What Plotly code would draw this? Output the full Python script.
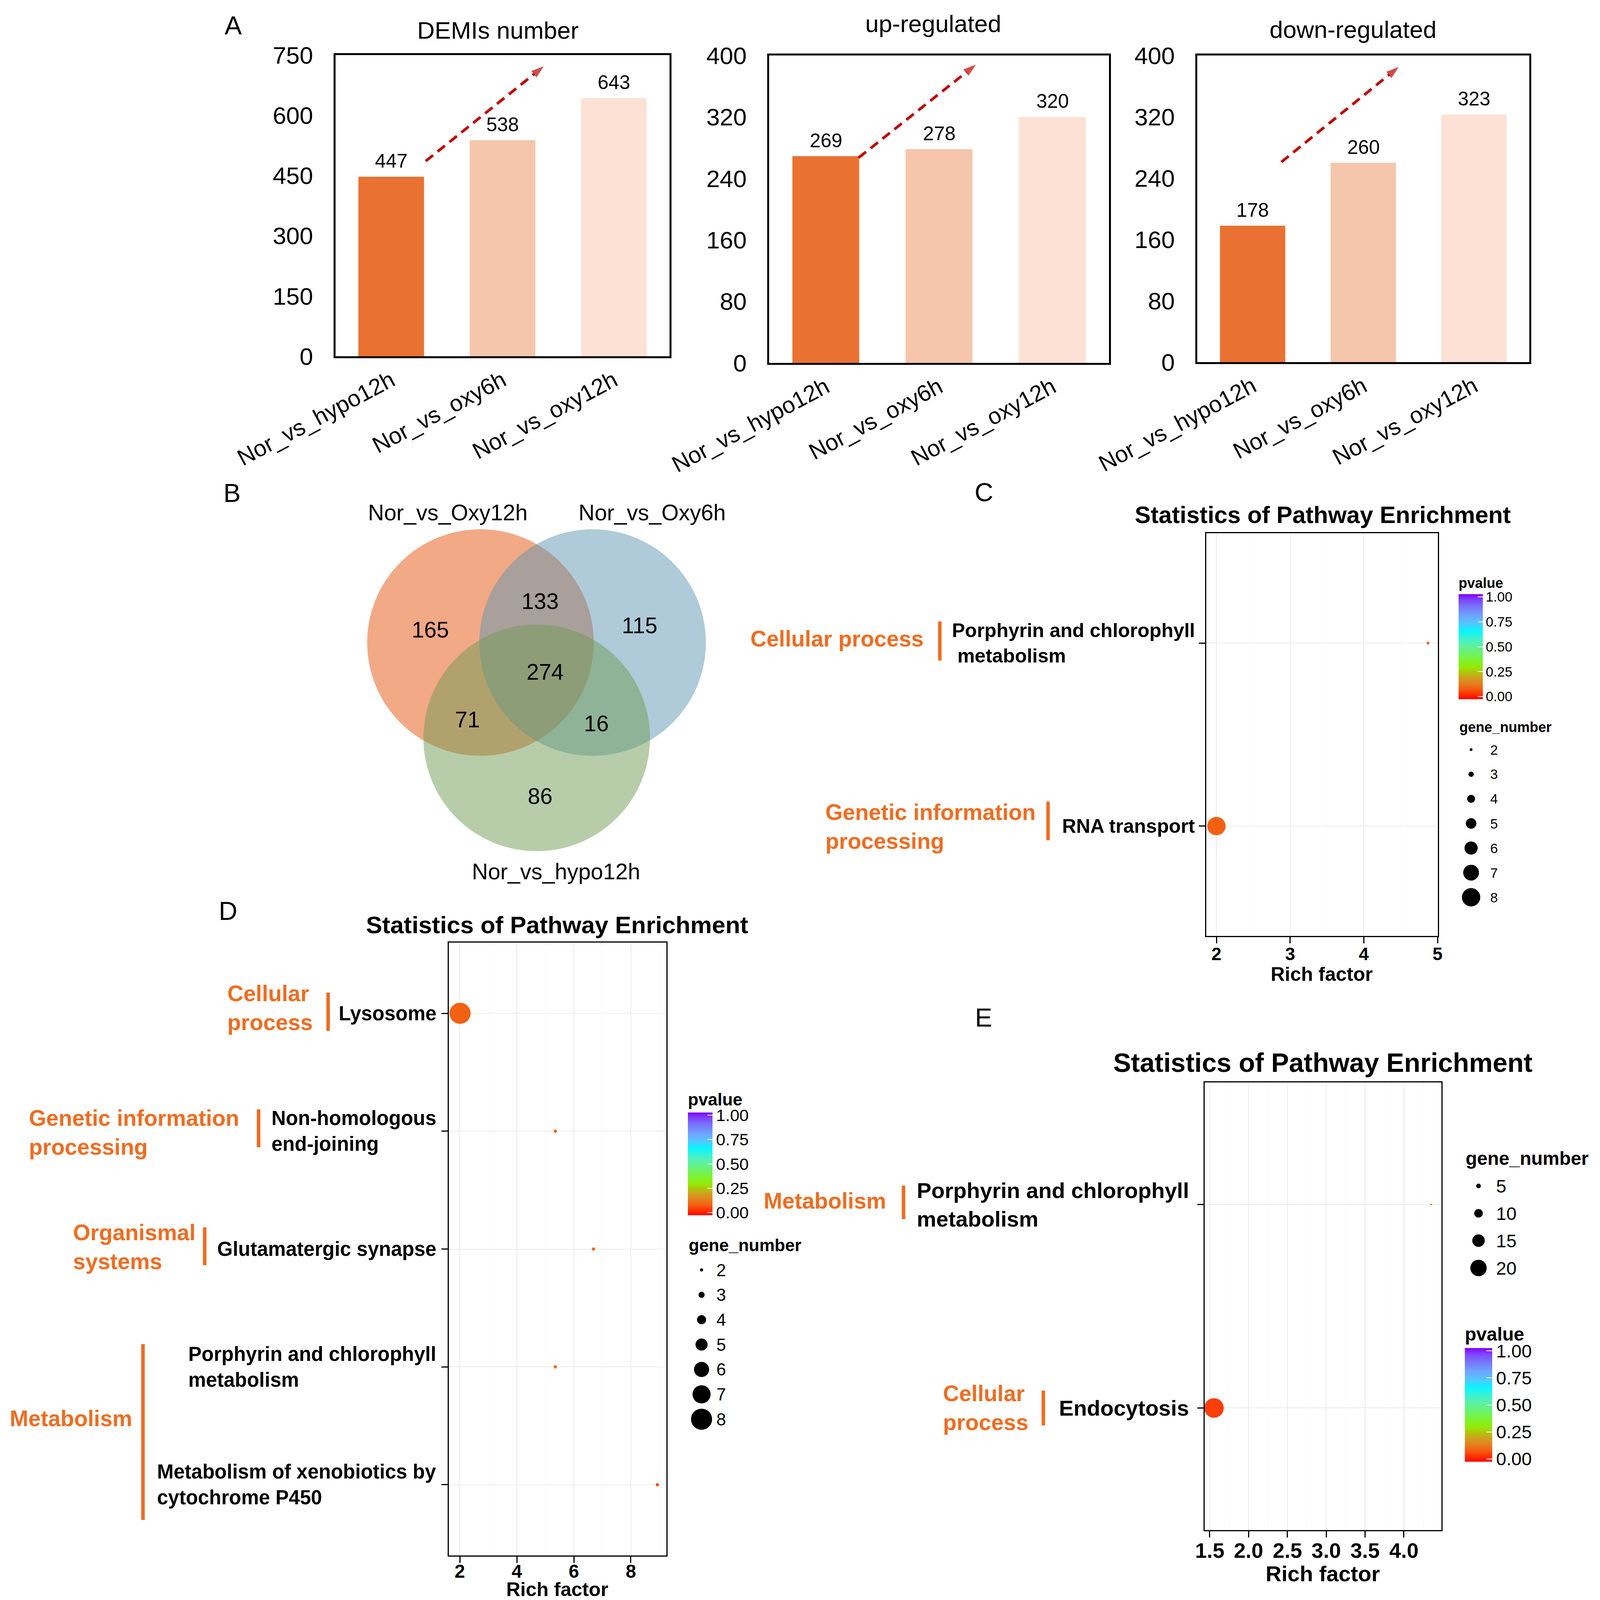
import plotly.graph_objects as go

W, H = 4097, 4146
FONT = "Liberation Sans, Arial, Helvetica, sans-serif"
ORANGE_TXT = "#EF6C21"
ARROW_RED = "#C00000"

# ---------------- DATA ----------------
comparisons = ["Nor_vs_hypo12h", "Nor_vs_oxy6h", "Nor_vs_oxy12h"]
demis_number = [447, 538, 643]
up_regulated = [269, 278, 320]
down_regulated = [178, 260, 323]
bar_colors = ["#E97132", "#F5C6AB", "#FBE2D5"]

venn_sets = ["Nor_vs_Oxy12h", "Nor_vs_Oxy6h", "Nor_vs_hypo12h"]
venn_only_oxy12 = 165
venn_oxy12_oxy6 = 133
venn_only_oxy6 = 115
venn_all = 274
venn_oxy12_hypo = 71
venn_oxy6_hypo = 16
venn_only_hypo = 86

C_path = ["RNA transport", "Porphyrin and chlorophyll metabolism"]
C_labels = ["RNA transport", "Porphyrin and chlorophyll<br>\u00a0metabolism"]
C_rich = [2.0, 4.87]
C_gene = [8, 2]
C_p = [0.08, 0.07]

D_path = ["Metabolism of xenobiotics by cytochrome P450", "Porphyrin and chlorophyll metabolism",
          "Glutamatergic synapse", "Non-homologous end-joining", "Lysosome"]
D_labels = ["Metabolism of xenobiotics by<br>cytochrome P450", "Porphyrin and chlorophyll<br>metabolism",
            "Glutamatergic synapse", "Non-homologous<br>end-joining", "Lysosome"]
D_rich = [8.93, 5.35, 6.69, 5.35, 2.01]
D_gene = [2, 2, 2, 2, 8]
D_p = [0.05, 0.08, 0.08, 0.08, 0.08]

E_path = ["Endocytosis", "Porphyrin and chlorophyll metabolism"]
E_labels = ["Endocytosis", "Porphyrin and chlorophyll<br>metabolism"]
E_rich = [1.555, 4.35]
E_gene = [24, 1]
E_p = [0.04, 0.07]

C_size_breaks = [2, 3, 4, 5, 6, 7, 8]
D_size_breaks = [2, 3, 4, 5, 6, 7, 8]
E_size_breaks = [5, 10, 15, 20]
pvalue_ticks = [0, 0.25, 0.5, 0.75, 1.0]
pvalue_ticktext = ["0.00", "0.25", "0.50", "0.75", "1.00"]

# ---------------- HELPERS ----------------
def fx(p):
    return p / W

def fy(p):
    return 1 - p / H

def size_C(n):
    return 7 + (n - 2) * 40 / 6

def size_D(n):
    return 8 + (n - 2) * 46 / 6

def size_E(n):
    return 2 + 2 * n

rainbow = [[0.0, "#FF0000"], [0.04, "#FF2A00"], [0.10, "#F26012"], [0.16, "#E28420"],
           [0.21, "#CFA21C"], [0.26, "#ADC80A"], [0.30, "#98E806"], [0.37, "#7EF22E"],
           [0.44, "#6CF26A"], [0.52, "#5CF0A8"], [0.59, "#38F2D8"], [0.65, "#08F6FF"],
           [0.72, "#52C8FF"], [0.79, "#6EA6FF"], [0.88, "#7676FA"], [0.95, "#8040FF"],
           [1.0, "#8000FF"]]

fig = go.Figure()
anns = []
shapes = []
layout = dict(width=W, height=H, autosize=False,
              margin=dict(l=0, r=0, t=0, b=0, pad=0, autoexpand=False),
              paper_bgcolor="white", plot_bgcolor="rgba(0,0,0,0)", showlegend=False,
              font=dict(family=FONT, color="black"))


def ann(text, x, y, size, color="black", weight="normal", xanchor="center",
        yanchor="middle", align="center"):
    anns.append(dict(text=text, x=fx(x), y=fy(y), xref="paper", yref="paper",
                     showarrow=False, xanchor=xanchor, yanchor=yanchor, align=align,
                     font=dict(family=FONT, size=size, color=color, weight=weight)))


def vbar(x, y0, y1, width=9):
    shapes.append(dict(type="line", xref="paper", yref="paper", x0=fx(x), x1=fx(x),
                       y0=fy(y0), y1=fy(y1), line=dict(color=ORANGE_TXT, width=width)))

# ---------------- PANEL A (bars) ----------------
bar_panels = [
    (1, demis_number, "DEMIs number", (859, 1714), (141, 912), [0, 750], 150, (1274, 77),
     ((0.31, 486), (1.37, 722))),
    (2, up_regulated, "up-regulated", (1969, 2839), (142, 929), [0, 400], 80, (2389, 60),
     ((0.29, 267), (1.325, 388))),
    (3, down_regulated, "down-regulated", (3065, 3915), (142, 927), [0, 400], 80, (3463, 75),
     ((0.26, 261), (1.32, 385))),
]
for idx, vals, title, xd, yd, yr, dt, tpos, arrow in bar_panels:
    s = "" if idx == 1 else str(idx)
    xa, ya = "x" + s, "y" + s
    layout["xaxis" + s] = dict(domain=[fx(xd[0]), fx(xd[1])], range=[-0.5, 2.5], anchor=ya,
                               tickvals=[0, 1, 2], ticktext=comparisons, tickangle=-28,
                               showline=True, linecolor="black", linewidth=5, mirror=True,
                               ticks="", showgrid=False, zeroline=False, automargin=False,
                               tickfont=dict(family=FONT, size=59, color="black"))
    layout["yaxis" + s] = dict(domain=[fy(yd[1]), fy(yd[0])], range=yr, dtick=dt, anchor=xa,
                               showline=True, linecolor="black", linewidth=5, mirror=True,
                               ticks="", showgrid=False, zeroline=False, ticklabelstandoff=40,
                               automargin=False,
                               tickfont=dict(family=FONT, size=62, color="black"))
    fig.add_trace(go.Bar(x=[0, 1, 2], y=vals, marker=dict(color=bar_colors, line=dict(width=0)),
                         width=0.59, xaxis=xa, yaxis=ya, hoverinfo="skip"))
    for i, v in enumerate(vals):
        anns.append(dict(text=str(v), x=i, y=v, xref=xa, yref=ya, yshift=40, showarrow=False,
                         xanchor="center", yanchor="middle",
                         font=dict(family=FONT, size=50, color="black")))
    (ax0, ay0), (ax1, ay1) = arrow
    fig.add_trace(go.Scatter(x=[ax0, ax1], y=[ay0, ay1], mode="lines+markers", xaxis=xa, yaxis=ya,
                             line=dict(color=ARROW_RED, width=7, dash="24px,15px"),
                             marker=dict(symbol="arrow", size=[0, 34], angleref="previous",
                                         color=ARROW_RED, line=dict(width=0)),
                             hoverinfo="skip"))
    ann(title, tpos[0], tpos[1], 62)

# panel letters
for letter, x, y in [("A", 597, 65), ("B", 594, 1262), ("C", 2519, 1260),
                     ("D", 584, 2332), ("E", 2518, 2605)]:
    ann(letter, x, y, 66)

# ---------------- overlay pixel axes (for Venn & size legends) ----------------
layout["xaxis7"] = dict(domain=[0, 1], range=[0, W], anchor="y7", visible=False, fixedrange=True)
layout["yaxis7"] = dict(domain=[0, 1], range=[H, 0], anchor="x7", visible=False, fixedrange=True)

# ---------------- PANEL B (Venn) ----------------
venn_circles = [((1230, 1645), "#E5530B"), ((1517, 1645), "#5F95B1"), ((1374, 1889), "#6F9B55")]
R = 290
for (cx, cy), col in venn_circles:
    shapes.append(dict(type="circle", xref="x7", yref="y7", x0=cx - R, x1=cx + R,
                       y0=cy - R, y1=cy + R, fillcolor=col, opacity=0.5,
                       line=dict(width=0), layer="below"))
venn_counts = [(venn_only_oxy12, 1101, 1612), (venn_oxy12_oxy6, 1382, 1539),
               (venn_only_oxy6, 1637, 1601), (venn_all, 1395, 1720),
               (venn_oxy12_hypo, 1196, 1842), (venn_oxy6_hypo, 1526, 1852),
               (venn_only_hypo, 1382, 2038)]
for n, x, y in venn_counts:
    ann(str(n), x, y, 57)
for name, (x, y) in zip(venn_sets, [(1146, 1312), (1669, 1312), (1423, 2231)]):
    ann(name, x, y, 57)

# ---------------- PANELS C, D, E (bubble plots) ----------------
bubble_panels = [
    dict(ax=4, rich=C_rich, gene=C_gene, p=C_p, labels=C_labels, size=size_C,
         xd=(3088, 3681), yd=(1365, 2396), xr=[1.862, 5.005], dtick=1, minor=0.5, fmt="d",
         tickfont=46, standoff=-12, label_right=3061, label_size=50,
         title=(3386, 1318, 61), xtitle=(3383, 2494, 50), coloraxis="coloraxis",
         cb=dict(x=3734, y0=1475, y1=1790, th=62, tsize=35, title=36),
         sz=dict(breaks=C_size_breaks, tx=3734, ty=1861, tsize=36, cx=3766, y0=1919, dy=63,
                 lx=3813, lsize=35)),
    dict(ax=5, rich=D_rich, gene=D_gene, p=D_p, labels=D_labels, size=size_D,
         xd=(1149, 1706), yd=(2413, 3982), xr=[1.616, 9.247], dtick=2, minor=1, fmt="d",
         tickfont=48, standoff=-20, label_right=1119, label_size=51,
         title=(1426, 2367, 62), xtitle=(1426, 4069, 50), coloraxis="coloraxis2",
         cb=dict(x=1761, y0=2794, y1=3111, th=63, tsize=43, title=44),
         sz=dict(breaks=D_size_breaks, tx=1761, ty=3187, tsize=44, cx=1796, y0=3251, dy=63.7,
                 lx=1832, lsize=44)),
    dict(ax=6, rich=E_rich, gene=E_gene, p=E_p, labels=E_labels, size=size_E,
         xd=(3084, 3690), yd=(2771, 3917), xr=[1.435, 4.483], dtick=0.5, minor=0.25, fmt=".1f",
         tickfont=54, standoff=-13, label_right=3046, label_size=56,
         title=(3386, 2720, 68), xtitle=(3386, 4028, 56), coloraxis="coloraxis3",
         cb=dict(x=3750, y0=3393, y1=3742, th=70, tsize=47, title=48),
         sz=dict(breaks=E_size_breaks, tx=3750, ty=2965, tsize=48, cx=3785, y0=3036, dy=70,
                 lx=3828, lsize=47)),
]

for bp in bubble_panels:
    s = str(bp["ax"])
    xa, ya = "x" + s, "y" + s
    n = len(bp["rich"])
    layout["xaxis" + s] = dict(domain=[fx(bp["xd"][0]), fx(bp["xd"][1])], range=bp["xr"],
                               dtick=bp["dtick"], tick0=0, tickformat=bp["fmt"], anchor=ya,
                               showline=True, linecolor="black", automargin=False,
                               linewidth=3, mirror=True, ticks="outside", ticklen=16, tickwidth=3,
                               tickcolor="black", showgrid=True, gridcolor="#EBEBEB", gridwidth=2,
                               zeroline=False, ticklabelstandoff=bp["standoff"],
                               minor=dict(dtick=bp["minor"], showgrid=True, gridcolor="#F4F4F4",
                                          gridwidth=1, ticks=""),
                               tickfont=dict(family=FONT, size=bp["tickfont"], color="black",
                                             weight="bold"))
    layout["yaxis" + s] = dict(domain=[fy(bp["yd"][1]), fy(bp["yd"][0])], range=[-0.6, n - 0.4],
                               tickvals=list(range(n)), showticklabels=False, anchor=xa,
                               showline=True, linecolor="black", linewidth=3, mirror=True,
                               ticks="outside", ticklen=16, tickwidth=3, tickcolor="black",
                               automargin=False,
                               showgrid=True, gridcolor="#EBEBEB", gridwidth=2, zeroline=False)
    fig.add_trace(go.Scatter(x=bp["rich"], y=list(range(n)), mode="markers", xaxis=xa, yaxis=ya,
                             marker=dict(size=[bp["size"](g) for g in bp["gene"]], color=bp["p"],
                                         coloraxis=bp["coloraxis"], line=dict(width=0), opacity=1),
                             hoverinfo="skip"))
    for i, lab in enumerate(bp["labels"]):
        anns.append(dict(text=lab, x=fx(bp["label_right"]), y=i, xref="paper", yref=ya,
                         showarrow=False, xanchor="right", yanchor="middle", align="left",
                         font=dict(family=FONT, size=bp["label_size"], color="black",
                                   weight="bold")))
    t = bp["title"]
    ann("Statistics of Pathway Enrichment", t[0], t[1], t[2], weight="bold")
    t = bp["xtitle"]
    ann("Rich factor", t[0], t[1], t[2], weight="bold")
    cb = bp["cb"]
    layout[bp["coloraxis"]] = dict(
        cmin=-0.027, cmax=1.027, colorscale=rainbow,
        colorbar=dict(x=fx(cb["x"]), xanchor="left", y=fy((cb["y0"] + cb["y1"]) / 2),
                      yanchor="middle", len=cb["y1"] - cb["y0"], lenmode="pixels",
                      thickness=cb["th"], thicknessmode="pixels", outlinewidth=0, xpad=0, ypad=0,
                      tickvals=pvalue_ticks, ticktext=pvalue_ticktext, ticks="inside",
                      tickcolor="white", ticklen=int(cb["th"] * 0.22), tickwidth=2,
                      tickfont=dict(family=FONT, size=cb["tsize"], color="black"),
                      title=dict(text="pvalue", side="top",
                                 font=dict(family=FONT, size=cb["title"], color="black",
                                           weight="bold"))))
    sz = bp["sz"]
    ann("gene_number", sz["tx"], sz["ty"], sz["tsize"], weight="bold", xanchor="left")
    ys = [sz["y0"] + k * sz["dy"] for k in range(len(sz["breaks"]))]
    fig.add_trace(go.Scatter(x=[sz["cx"]] * len(sz["breaks"]), y=ys, mode="markers",
                             xaxis="x7", yaxis="y7",
                             marker=dict(size=[bp["size"](b) for b in sz["breaks"]], color="black",
                                         opacity=1, line=dict(width=0)), hoverinfo="skip"))
    for b, yy in zip(sz["breaks"], ys):
        ann(str(b), sz["lx"], yy, sz["lsize"], xanchor="left")

# orange group labels and bars
group_labels = [
    ("Cellular process", 1919, 1635), ("Genetic information<br>processing", 2111, 2116),
    ("Cellular<br>process", 580, 2580), ("Genetic information<br>processing", 72, 2899),
    ("Organismal<br>systems", 185, 3192), ("Metabolism", 23, 3631),
    ("Metabolism", 1953, 3074), ("Cellular<br>process", 2412, 3604),
]
for text, x, y in group_labels:
    ann(text, x, y, 57, color=ORANGE_TXT, weight="bold", xanchor="left", align="left")
for x, y0, y1 in [(2406, 1591, 1691), (2683, 2052, 2151), (840, 2541, 2639), (662, 2840, 2937),
                  (524, 3142, 3239), (366, 3441, 3891), (2313, 3035, 3121), (2671, 3560, 3649)]:
    vbar(x, y0, y1)

layout["annotations"] = anns
layout["shapes"] = shapes
fig.update_layout(**layout)
fig.write_html(
    "out.html",
    config={"displayModeBar": False, "staticPlot": True},
    post_script="document.body.style.margin='0px';document.body.style.padding='0px';"
                "document.documentElement.style.overflow='hidden';",
)
